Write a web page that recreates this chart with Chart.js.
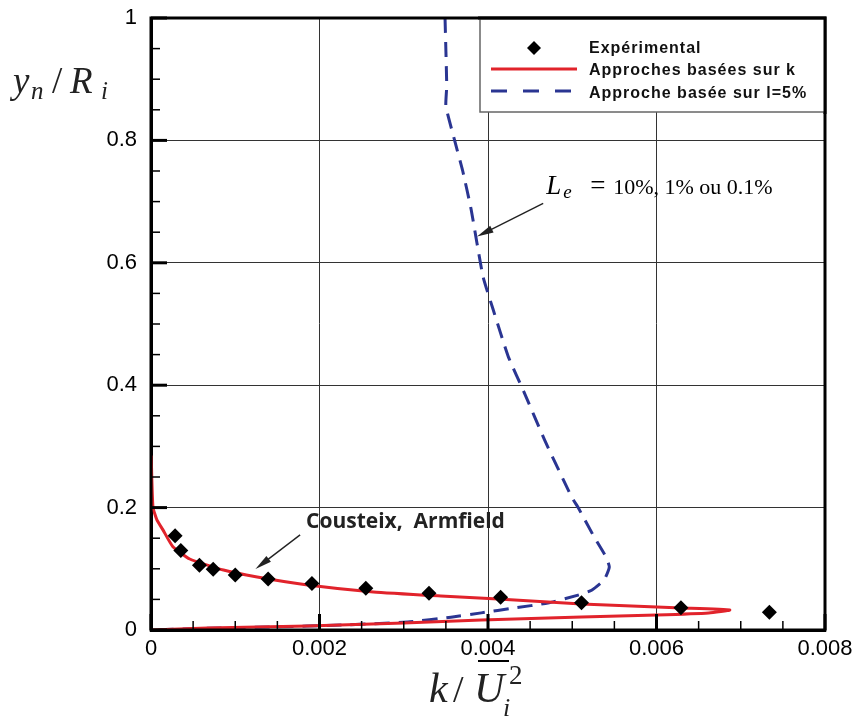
<!DOCTYPE html>
<html>
<head>
<meta charset="utf-8">
<script src="https://cdn.jsdelivr.net/npm/chart.js@4"></script>
<style>
  html, body { margin: 0; padding: 0; background: #fff; }
  #wrap { width: 854px; height: 719px; }
</style>
</head>
<body>
<div id="wrap"><canvas id="kChart" width="854" height="719"></canvas></div>
<script>
// Experimental points (k/U^2, y/R)
const expX = [0.000286, 0.000354, 0.000575, 0.000738, 0.00100, 0.00139, 0.00191, 0.00255, 0.00330, 0.00415, 0.00511, 0.00629, 0.00734];
const expY = [0.154, 0.130, 0.106, 0.0994, 0.090, 0.0835, 0.0758, 0.0682, 0.060, 0.0535, 0.0447, 0.0365, 0.029];

// k based approaches (red, solid)
const kX = [0.000003, 0.00001, 0.000024, 0.00007, 0.00014, 0.00026, 0.00046, 0.00086, 0.00126, 0.00186, 0.00264, 0.00344, 0.00412, 0.00511, 0.0063, 0.00687,
            0.00662, 0.0060, 0.00511, 0.00392, 0.0030, 0.00186, 0.00067, 0];
const kY = [0.285, 0.245, 0.200, 0.180, 0.164, 0.136, 0.116, 0.098, 0.0867, 0.0736, 0.0622, 0.0556, 0.0507, 0.0425, 0.036, 0.0327,
            0.0278, 0.0245, 0.0213, 0.0164, 0.0115, 0.0065, 0.0033, 0];

// l = 5% approach (blue, dashed)
const lX = [0.00349, 0.00351, 0.00350, 0.00360, 0.00370, 0.00380, 0.00394, 0.00406, 0.00424, 0.00443, 0.00467, 0.00499, 0.00507, 0.00526, 0.00540, 0.00544,
            0.00538, 0.00523, 0.00507, 0.00471, 0.00431, 0.00392, 0.00356, 0.00305, 0.00225, 0.00145, 0.00067, 0];
const lY = [1.0, 0.889, 0.856, 0.802, 0.750, 0.687, 0.578, 0.524, 0.447, 0.388, 0.311, 0.218, 0.200, 0.152, 0.1195, 0.103,
            0.082, 0.065, 0.057, 0.044, 0.036, 0.028, 0.021, 0.013, 0.008, 0.005, 0.003, 0];

const xTickLabels = ['0', '0.002', '0.004', '0.006', '0.008'];
const yTickLabels = ['0', '0.2', '0.4', '0.6', '0.8', '1'];
const legendLabels = ['Expérimental', 'Approches basées sur k', 'Approche basée sur l=5%'];

const RED = '#e1232b';
const BLUE = '#2a3592';

const toPts = (xs, ys) => xs.map((x, i) => ({ x: x, y: ys[i] }));

function arrow(ctx, x1, y1, x2, y2) {
    const a = Math.atan2(y2 - y1, x2 - x1);
    ctx.beginPath();
    ctx.moveTo(x1, y1);
    ctx.lineTo(x2 - 10 * Math.cos(a), y2 - 10 * Math.sin(a));
    ctx.strokeStyle = '#222';
    ctx.lineWidth = 1.4;
    ctx.stroke();
    ctx.beginPath();
    ctx.moveTo(x2, y2);
    ctx.lineTo(x2 - 17 * Math.cos(a - 0.22), y2 - 17 * Math.sin(a - 0.22));
    ctx.lineTo(x2 - 17 * Math.cos(a + 0.22), y2 - 17 * Math.sin(a + 0.22));
    ctx.closePath();
    ctx.fillStyle = '#222';
    ctx.fill();
}

const decorPlugin = {
    id: 'decor',
    afterDatasetsDraw(chart) {
        const ctx = chart.ctx;
        const a = chart.chartArea;
        const xs = chart.scales.x, ys = chart.scales.y;
        ctx.save();

        // frame
        ctx.strokeStyle = '#000';
        ctx.lineWidth = 3;
        ctx.strokeRect(a.left, a.top, a.right - a.left, a.bottom - a.top);

        // inside ticks on left and bottom
        ctx.lineCap = 'butt';
        for (let i = 0; i <= 16; i++) {
            const v = i * 0.0005;
            const px = xs.getPixelForValue(v);
            const major = i % 4 === 0;
            ctx.lineWidth = major ? 3 : 1.5;
            ctx.beginPath();
            ctx.moveTo(px, a.bottom);
            ctx.lineTo(px, a.bottom - (major ? 16 : 9));
            ctx.stroke();
        }
        for (let i = 0; i <= 20; i++) {
            const v = i * 0.05;
            const py = ys.getPixelForValue(v);
            const major = i % 4 === 0;
            ctx.lineWidth = major ? 3 : 1.5;
            ctx.beginPath();
            ctx.moveTo(a.left, py);
            ctx.lineTo(a.left + (major ? 16 : 9), py);
            ctx.stroke();
        }

        // legend box
        const lx = 480, ly = a.top + 1, lw = a.right - 480, lh = 93;
        ctx.fillStyle = '#fff';
        ctx.fillRect(lx, ly, lw, lh);
        ctx.strokeStyle = '#666';
        ctx.lineWidth = 1.5;
        ctx.strokeRect(lx, ly, lw, lh);
        ctx.strokeStyle = '#000';
        ctx.lineWidth = 3;
        ctx.beginPath();
        ctx.moveTo(lx - 2, a.top);
        ctx.lineTo(a.right, a.top);
        ctx.lineTo(a.right, ly + lh + 2);
        ctx.stroke();

        // legend entries
        ctx.fillStyle = '#000';
        ctx.beginPath();
        ctx.moveTo(534, 41); ctx.lineTo(541, 48); ctx.lineTo(534, 55); ctx.lineTo(527, 48);
        ctx.closePath();
        ctx.fill();
        ctx.strokeStyle = RED;
        ctx.lineWidth = 3;
        ctx.beginPath();
        ctx.moveTo(491, 69); ctx.lineTo(577, 69);
        ctx.stroke();
        ctx.strokeStyle = BLUE;
        ctx.setLineDash([16, 16]);
        ctx.beginPath();
        ctx.moveTo(491, 91); ctx.lineTo(572, 91);
        ctx.stroke();
        ctx.setLineDash([]);
        ctx.font = 'bold 16px "Liberation Sans", Arial, sans-serif';
        ctx.letterSpacing = '1px';
        ctx.textBaseline = 'alphabetic';
        ctx.textAlign = 'left';
        ctx.fillStyle = '#111';
        ctx.fillText(legendLabels[0], 589, 53);
        ctx.fillText(legendLabels[1], 589, 75);
        ctx.fillText(legendLabels[2], 589, 98);
        ctx.letterSpacing = '0px';

        // annotations
        ctx.font = 'bold 21px "Open Sans", "Liberation Sans", sans-serif';
        ctx.fillStyle = '#222';
        ctx.textBaseline = 'middle';
        ctx.fillText('Cousteix,  Armfield', xs.getPixelForValue(0.00184), ys.getPixelForValue(0.1768));
        arrow(ctx, xs.getPixelForValue(0.00177), ys.getPixelForValue(0.1555),
                   xs.getPixelForValue(0.00124), ys.getPixelForValue(0.0998));

        const lex = xs.getPixelForValue(0.00469), ley = ys.getPixelForValue(0.7234) + 7;
        ctx.textBaseline = 'alphabetic';
        ctx.fillStyle = '#000';
        ctx.font = 'italic 27px "Liberation Serif", serif';
        ctx.fillText('L', lex, ley);
        ctx.font = 'italic 19px "Liberation Serif", serif';
        ctx.fillText('e', lex + 17, ley + 4);
        ctx.font = '27px "Liberation Serif", serif';
        ctx.fillText('=', lex + 44, ley);
        ctx.font = '22px "Liberation Serif", serif';
        ctx.fillText('10%, 1% ou 0.1%', lex + 67, ley);
        arrow(ctx, xs.getPixelForValue(0.004655), ys.getPixelForValue(0.697),
                   xs.getPixelForValue(0.00387), ys.getPixelForValue(0.643));

        // axis titles
        ctx.font = 'italic 37px "Liberation Serif", serif';
        ctx.fillText('y', 13, 93);
        ctx.font = 'italic 25px "Liberation Serif", serif';
        ctx.fillText('n', 31, 99);
        ctx.font = '37px "Liberation Serif", serif';
        ctx.fillText('/', 52, 93);
        ctx.font = 'italic 37px "Liberation Serif", serif';
        ctx.fillText('R', 70, 93);
        ctx.font = 'italic 25px "Liberation Serif", serif';
        ctx.fillText('i', 101, 99);

        ctx.font = 'italic 42px "Liberation Serif", serif';
        ctx.fillText('k', 429, 702);
        ctx.font = '38px "Liberation Serif", serif';
        ctx.fillText('/', 453, 702);
        ctx.font = 'italic 42px "Liberation Serif", serif';
        ctx.fillText('U', 474, 702);
        ctx.lineWidth = 2;
        ctx.strokeStyle = '#000';
        ctx.beginPath();
        ctx.moveTo(478, 661); ctx.lineTo(509, 661);
        ctx.stroke();
        ctx.font = 'italic 26px "Liberation Serif", serif';
        ctx.fillText('i', 503, 716);
        ctx.font = '27px "Liberation Serif", serif';
        ctx.fillText('2', 509, 684);

        ctx.restore();
    }
};

new Chart(document.getElementById('kChart'), {
    type: 'scatter',
    data: {
        datasets: [{
            label: legendLabels[0],
            data: toPts(expX, expY),
            pointStyle: 'rectRot',
            pointRadius: 7.5,
            backgroundColor: '#000',
            borderColor: '#000',
            borderWidth: 0,
            showLine: false
        }, {
            label: legendLabels[1],
            data: toPts(kX, kY),
            showLine: true,
            borderColor: RED,
            borderWidth: 3,
            pointRadius: 0,
            tension: 0.15
        }, {
            label: legendLabels[2],
            data: toPts(lX, lY),
            showLine: true,
            borderColor: BLUE,
            borderWidth: 3,
            borderDash: [15, 9],
            pointRadius: 0,
            tension: 0.15
        }]
    },
    options: {
        responsive: false,
        animation: false,
        layout: { padding: { top: 18, right: 29, left: 0, bottom: 0 } },
        plugins: {
            legend: { display: false },
            tooltip: { enabled: false }
        },
        scales: {
            x: {
                type: 'linear',
                min: 0,
                max: 0.008,
                afterFit: s => { s.height = 89; s.paddingLeft = 0; s.paddingRight = 0; },
                ticks: {
                    stepSize: 0.002,
                    padding: 6,
                    color: '#000',
                    font: { family: '"Liberation Sans", Arial, sans-serif', size: 22 },
                    callback: (v, i) => xTickLabels[i]
                },
                grid: { color: '#333', lineWidth: 1, drawTicks: false },
                border: { display: true, color: '#000', width: 3 }
            },
            y: {
                type: 'linear',
                min: 0,
                max: 1,
                afterFit: s => { s.width = 151; s.paddingTop = 0; s.paddingBottom = 0; },
                ticks: {
                    stepSize: 0.2,
                    padding: 14,
                    color: '#000',
                    font: { family: '"Liberation Sans", Arial, sans-serif', size: 22 },
                    callback: (v, i) => yTickLabels[i]
                },
                grid: { color: '#333', lineWidth: 1, drawTicks: false },
                border: { display: true, color: '#000', width: 3 }
            }
        }
    },
    plugins: [decorPlugin]
});
</script>
</body>
</html>
